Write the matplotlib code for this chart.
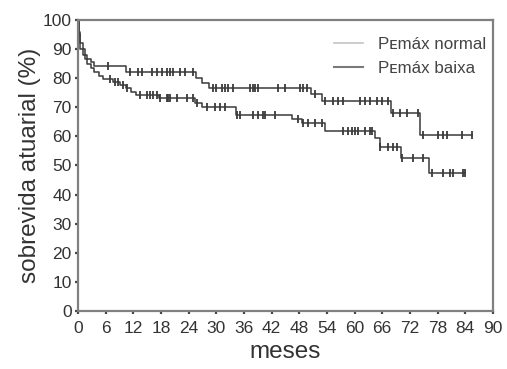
import matplotlib
matplotlib.use("Agg")
import matplotlib.pyplot as plt
import numpy as np

plt.rcParams['font.family'] = ['Liberation Sans', 'DejaVu Sans']

# Pemax normal (upper curve): step times and survival (%)
t_normal = [0, 0.2, 0.5, 1, 1.5, 2, 2.7, 3.5, 10.3, 25.5, 27, 28.5, 50.5, 53, 67.8, 74.3]
s_normal = [100, 96, 92, 90, 88, 86.5, 85.5, 84.3, 82, 80, 78.5, 76.7, 74.5, 72, 68, 60.5]
end_normal = 85.5
cens_normal = [6.6, 11.3, 13, 13.9, 16, 17.1, 18.2, 19.2, 20, 20.7, 22.1, 23.2, 25,
               29.2, 30, 31.2, 31.9, 32.6, 33.7, 37.3, 38, 38.4, 39, 43.4, 44.9,
               48.2, 48.8, 49.6, 51.4, 53.6, 55.3, 56.4, 57.5, 61.2, 62.3, 63.3,
               64.8, 65.9, 67.3, 68.4, 69.8, 71.4, 73.8, 74.9, 78.1, 79.2, 80, 83.3, 85.5]

# Pemax baixa (lower curve)
t_baixa = [0, 0.2, 0.5, 1, 1.5, 2, 2.7, 3.5, 4.5, 5.5, 7.5, 9, 10.5, 11.5, 12.5, 17.5,
           25.3, 27, 34.3, 46.5, 48.5, 53.5, 64.5, 65.5, 70, 76.2]
s_baixa = [100, 95, 90, 88, 86.5, 85, 83.5, 82, 80.8, 79.8, 78.8, 77.8, 76.5, 75.3, 74.2, 73.2,
           71.5, 70, 67.4, 65.8, 64.6, 61.8, 59.4, 56.4, 52.6, 47.4]
end_baixa = 84.0
cens_baixa = [6.9, 8, 8.7, 9.8, 10.6, 13.4, 15, 15.6, 16.3, 17.1, 17.8, 19.3, 19.5, 20,
              21.4, 23.6, 25, 25.8, 27.9, 29.7, 30.8, 31.9, 34.5, 35.1, 38, 39, 40.1,
              40.6, 42.7, 47.7, 48.8, 49.9, 51.4, 53, 57.5, 58.6, 59.4, 60.1, 60.7,
              62.3, 63.3, 63.8, 65.5, 67.3, 68.4, 69.2, 70.3, 72.7, 74.9, 76.8, 79.2,
              80.7, 81.4, 83.5, 83.9]

x_ticks = list(range(0, 91, 6))
y_ticks = list(range(0, 101, 10))


def surv_at(times, vals, t):
    i = np.searchsorted(times, t, side='right') - 1
    return np.asarray(vals)[i]


fig = plt.figure(figsize=(5.07, 3.69), dpi=100)
ax = fig.add_axes([0.154, 0.157, 0.818, 0.789])

curve_col = '#3a3a3a'
for t, s, end, cens in [(t_normal, s_normal, end_normal, cens_normal),
                        (t_baixa, s_baixa, end_baixa, cens_baixa)]:
    tt = list(t) + [end]
    ss = list(s) + [s[-1]]
    ax.step(tt, ss, where='post', color=curve_col, lw=1.1)
    ax.plot(cens, surv_at(t, s, np.array(cens)), ls='none', marker='|',
            ms=5.5, mew=1.3, color=curve_col)

# legend (line colours as in the figure)
h1, = ax.plot([], [], color='#c4c4c4', lw=1.2)
h2, = ax.plot([], [], color='#7a7a7a', lw=1.5)
ax.legend([h1, h2], ['P\u1d07máx normal', 'P\u1d07máx baixa'], loc='upper right',
          bbox_to_anchor=(1.0, 0.965),
          frameon=False, fontsize=12.2, handlelength=1.7, handletextpad=0.9,
          labelspacing=0.55, borderaxespad=0.0, borderpad=0.4,
          labelcolor='#444444')

ax.set_xlim(0, 90)
ax.set_ylim(0, 100)
ax.set_xticks(x_ticks)
ax.set_yticks(y_ticks)
ax.tick_params(labelsize=12.5, length=2.5, width=1.6, color='#444444',
               labelcolor='#333333')
ax.tick_params(axis='x', pad=5)
ax.tick_params(axis='y', pad=2)
for sp in ax.spines.values():
    sp.set_color('#808080')
    sp.set_linewidth(1.6)

ax.set_xlabel('meses', fontsize=17.5, color='#333333', labelpad=3)
ax.set_ylabel('sobrevida atuarial (%)', fontsize=17.5, color='#333333', labelpad=1)

fig.savefig('out.png', dpi=100)
